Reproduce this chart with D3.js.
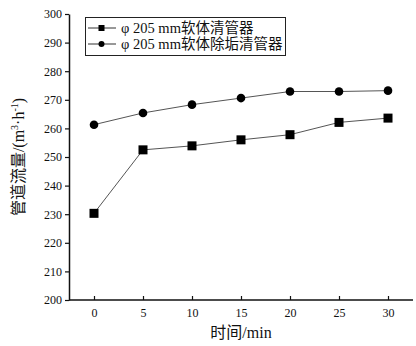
<!DOCTYPE html>
<html>
<head>
<meta charset="utf-8">
<script src="https://cdn.jsdelivr.net/npm/d3@7"></script>
<style>
  body { margin: 0; background: #fff; }
  text { fill: #111; }
</style>
</head>
<body>
<div id="canvas"></div>
<script>
var _width = 416, _height = 346;
var _serif = '"Liberation Serif", "DejaVu Serif", "Times New Roman", serif';
var _mixed = '"Liberation Serif", "Noto Sans CJK SC", serif';

// data
var times = [0, 5, 10, 15, 20, 25, 30];
var seriesNames = ["\u03c6 205 mm软体清管器", "\u03c6 205 mm软体除垢清管器"];
var flowSoft = [230.3, 252.5, 253.9, 256.0, 257.8, 262.1, 263.6];
var flowDescale = [261.3, 265.4, 268.3, 270.6, 272.9, 272.9, 273.2];
var yTicks = [200, 210, 220, 230, 240, 250, 260, 270, 280, 290, 300];
var xLabel = "时间/min";

var _left = 69, _right = 413, _top = 14, _bottom = 300;

var svg = d3.select('#canvas').append('svg')
    .attr('width', _width)
    .attr('height', _height);

var x = d3.scaleLinear().domain([0, 30]).range([94, 388]);
var y = d3.scaleLinear().domain([200, 300]).range([_bottom, _top]);

// y axis
var yAxis = svg.append('g')
    .attr('transform', 'translate(' + _left + ',0)')
    .call(d3.axisLeft(y).tickValues(yTicks).tickSize(4).tickSizeOuter(0))
    .attr('font-family', _serif)
    .attr('font-size', 12);
yAxis.select('.domain').attr('stroke', '#111').attr('stroke-width', 1.5);
yAxis.selectAll('.tick line').attr('stroke', '#111').attr('stroke-width', 1.2);
yAxis.selectAll('.tick text').attr('x', -7);

// x axis
var xAxis = svg.append('g')
    .attr('transform', 'translate(0,' + _bottom + ')')
    .call(d3.axisBottom(x).tickValues(times).tickSize(0).tickSizeOuter(0))
    .attr('font-family', _serif)
    .attr('font-size', 12);
xAxis.select('.domain').attr('d', 'M' + _left + ',0H' + _right)
    .attr('stroke', '#111').attr('stroke-width', 1.5);
xAxis.selectAll('.tick line').attr('y2', -4).attr('stroke', '#111').attr('stroke-width', 1.2);
xAxis.selectAll('.tick text').attr('y', 8);

// axis titles
svg.append('text')
    .attr('transform', 'translate(24,' + (_top + _bottom) / 2 + ') rotate(-90)')
    .attr('text-anchor', 'middle')
    .style('font-size', '16px')
    .style('font-family', _mixed)
    .html('管道流量/(m<tspan dy="-6" font-size="10">3</tspan><tspan dy="6">·h</tspan><tspan dy="-6" font-size="10">-1</tspan><tspan dy="6">)</tspan>');

svg.append('text')
    .attr('x', 241)
    .attr('y', 338)
    .attr('text-anchor', 'middle')
    .style('font-size', '16px')
    .style('font-family', _mixed)
    .text(xLabel);

var line = d3.line()
    .x(function (d, i) { return x(times[i]); })
    .y(function (d) { return y(d); });

[flowSoft, flowDescale].forEach(function (s) {
    svg.append('path')
        .datum(s)
        .attr('d', line)
        .attr('fill', 'none')
        .attr('stroke', '#555')
        .attr('stroke-width', 1);
});

svg.selectAll('rect.sq').data(flowSoft).enter().append('rect')
    .attr('class', 'sq')
    .attr('x', function (d, i) { return x(times[i]) - 4.5; })
    .attr('y', function (d) { return y(d) - 4.5; })
    .attr('width', 9).attr('height', 9)
    .attr('fill', '#000');

svg.selectAll('circle.ci').data(flowDescale).enter().append('circle')
    .attr('class', 'ci')
    .attr('cx', function (d, i) { return x(times[i]); })
    .attr('cy', function (d) { return y(d); })
    .attr('r', 4.3)
    .attr('fill', '#000');

// legend
var lg = svg.append('g');
lg.append('rect')
    .attr('x', 85.5).attr('y', 17.5).attr('width', 200).attr('height', 38)
    .attr('fill', 'none').attr('stroke', '#222').attr('stroke-width', 1);
seriesNames.forEach(function (name, i) {
    var cy = 28 + i * 16;
    lg.append('line').attr('x1', 88).attr('x2', 116).attr('y1', cy).attr('y2', cy)
        .attr('stroke', '#333').attr('stroke-width', 1);
    if (i === 0) {
        lg.append('rect').attr('x', 98.5).attr('y', cy - 3).attr('width', 6).attr('height', 6).attr('fill', '#000');
    } else {
        lg.append('circle').attr('cx', 101.5).attr('cy', cy).attr('r', 3).attr('fill', '#000');
    }
    lg.append('text')
        .attr('x', 121).attr('y', cy + 5)
        .style('font-size', '14.5px')
        .style('font-family', _mixed)
        .text(name);
});
</script>
</body>
</html>
